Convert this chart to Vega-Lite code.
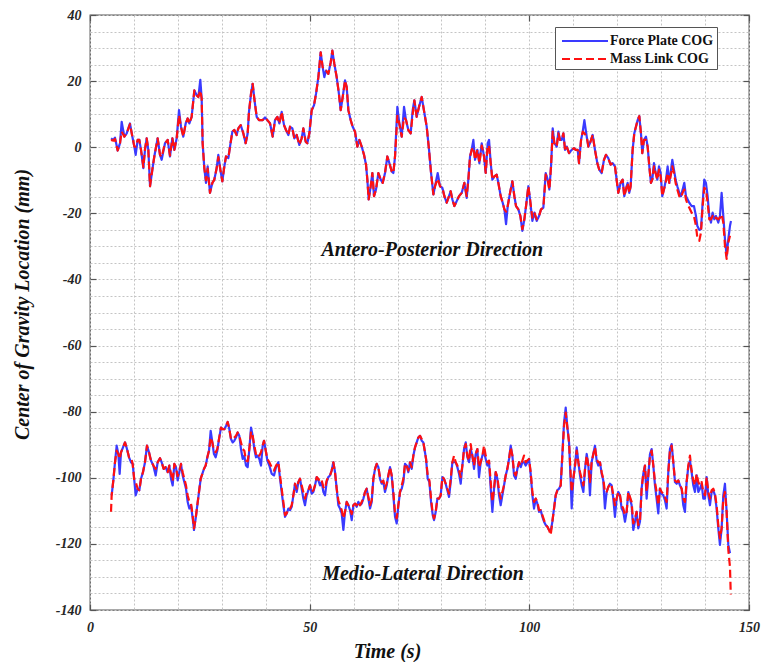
{
"$schema":"https://vega.github.io/schema/vega-lite/v6.json",
"width":659,"height":595,
"autosize":{"type":"none"},
"padding":{"left":90,"top":15,"right":17,"bottom":52},
"background":"white",
"config":{
 "view":{"stroke":"#555555","strokeWidth":1.3},
 "font":"Liberation Serif",
 "axis":{"labelFont":"Liberation Serif","labelFontSize":14,"labelFontStyle":"italic","labelFontWeight":"bold","labelColor":"#262626",
  "titleFont":"Liberation Serif","titleFontSize":20,"titleFontStyle":"italic","titleFontWeight":"bold","titleColor":"#111111",
  "domain":false,"tickColor":"#555555","tickWidth":1.2,"gridColor":"#c4c4c4","gridDash":[2,2],"gridWidth":1}
},
"datasets":{
"notes":[{"t":77.9,"v":-32.9,"label":"Antero-Posterior Direction"},{"t":75.8,"v":-130.9,"label":"Medio-Lateral Direction"}],
"cog":[
{"d":"AP","t":4.78,"F":2.7,"M":2.2},{"d":"AP","t":5.31,"F":2.2,"M":2.0},{"d":"AP","t":5.69,"F":2.9,"M":2.5},{"d":"AP","t":6.3,"F":-1.0,"M":-1.0},{"d":"AP","t":6.83,"F":1.2,"M":1.2},{"d":"AP","t":7.21,"F":7.7,"M":4.7},{"d":"AP","t":7.82,"F":3.2,"M":3.2},{"d":"AP","t":8.35,"F":4.2,"M":4.2},{"d":"AP","t":9.1,"F":7.2,"M":7.0},{"d":"AP","t":9.64,"F":3.2,"M":3.2},{"d":"AP","t":10.09,"F":0.2,"M":0.2},{"d":"AP","t":10.4,"F":-2.3,"M":0.2},{"d":"AP","t":10.85,"F":2.2,"M":2.2},{"d":"AP","t":11.23,"F":2.2,"M":2.2},{"d":"AP","t":11.61,"F":-0.8,"M":-0.8},{"d":"AP","t":12.14,"F":-6.3,"M":-6.0},{"d":"AP","t":12.52,"F":-0.8,"M":-0.5},{"d":"AP","t":12.9,"F":2.7,"M":2.7},{"d":"AP","t":13.28,"F":-0.8,"M":-0.8},{"d":"AP","t":13.66,"F":-11.8,"M":-11.8},{"d":"AP","t":14.19,"F":-6.8,"M":-6.8},{"d":"AP","t":14.64,"F":-2.8,"M":-2.8},{"d":"AP","t":15.4,"F":2.7,"M":2.7},{"d":"AP","t":15.93,"F":-2.3,"M":-2.3},{"d":"AP","t":16.31,"F":-3.8,"M":-3.0},{"d":"AP","t":17.07,"F":1.2,"M":1.2},{"d":"AP","t":17.68,"F":2.2,"M":2.2},{"d":"AP","t":18.21,"F":-2.8,"M":-2.5},{"d":"AP","t":18.74,"F":2.7,"M":2.7},{"d":"AP","t":19.2,"F":-0.8,"M":-0.8},{"d":"AP","t":19.73,"F":2.7,"M":2.7},{"d":"AP","t":20.26,"F":11.2,"M":9.7},{"d":"AP","t":20.71,"F":6.2,"M":6.2},{"d":"AP","t":21.24,"F":3.2,"M":3.2},{"d":"AP","t":21.78,"F":7.2,"M":7.2},{"d":"AP","t":22.23,"F":8.7,"M":8.7},{"d":"AP","t":22.61,"F":7.2,"M":7.2},{"d":"AP","t":23.14,"F":9.2,"M":9.2},{"d":"AP","t":23.75,"F":17.2,"M":17.2},{"d":"AP","t":24.28,"F":15.7,"M":15.7},{"d":"AP","t":24.66,"F":15.2,"M":15.2},{"d":"AP","t":25.11,"F":20.4,"M":17.2},{"d":"AP","t":25.42,"F":14.7,"M":14.7},{"d":"AP","t":25.64,"F":1.2,"M":1.2},{"d":"AP","t":26.02,"F":-6.3,"M":-6.3},{"d":"AP","t":26.4,"F":-10.8,"M":-10.0},{"d":"AP","t":26.78,"F":-5.8,"M":-6.5},{"d":"AP","t":27.31,"F":-13.8,"M":-13.8},{"d":"AP","t":27.85,"F":-10.8,"M":-10.8},{"d":"AP","t":28.3,"F":-9.8,"M":-9.8},{"d":"AP","t":28.83,"F":-6.3,"M":-6.3},{"d":"AP","t":29.21,"F":-2.3,"M":-3.0},{"d":"AP","t":29.67,"F":-6.8,"M":-6.8},{"d":"AP","t":30.12,"F":-10.3,"M":-10.3},{"d":"AP","t":30.58,"F":-5.8,"M":-5.8},{"d":"AP","t":30.96,"F":-2.8,"M":-2.8},{"d":"AP","t":31.49,"F":-3.3,"M":-3.3},{"d":"AP","t":31.87,"F":0.2,"M":0.2},{"d":"AP","t":32.4,"F":4.7,"M":4.7},{"d":"AP","t":32.85,"F":5.2,"M":5.2},{"d":"AP","t":33.38,"F":3.7,"M":3.7},{"d":"AP","t":33.76,"F":5.7,"M":5.7},{"d":"AP","t":34.3,"F":6.7,"M":6.7},{"d":"AP","t":34.9,"F":4.2,"M":4.2},{"d":"AP","t":35.43,"F":1.2,"M":1.2},{"d":"AP","t":35.89,"F":4.2,"M":4.2},{"d":"AP","t":36.19,"F":10.7,"M":10.7},{"d":"AP","t":36.65,"F":16.2,"M":16.2},{"d":"AP","t":37.03,"F":19.2,"M":19.2},{"d":"AP","t":37.4,"F":14.7,"M":14.7},{"d":"AP","t":37.94,"F":9.2,"M":9.2},{"d":"AP","t":38.47,"F":8.2,"M":8.2},
{"d":"AP","t":39.31,"F":8.2,"M":8.2},{"d":"AP","t":39.84,"F":9.0,"M":9.0},{"d":"AP","t":40.37,"F":8.2,"M":8.2},{"d":"AP","t":40.98,"F":7.2,"M":7.2},{"d":"AP","t":41.58,"F":3.2,"M":3.2},{"d":"AP","t":42.11,"F":8.2,"M":8.2},{"d":"AP","t":42.65,"F":9.2,"M":9.2},{"d":"AP","t":43.1,"F":7.2,"M":7.2},{"d":"AP","t":43.63,"F":10.7,"M":10.7},{"d":"AP","t":44.16,"F":6.7,"M":6.7},{"d":"AP","t":44.62,"F":5.2,"M":5.2},{"d":"AP","t":45.15,"F":3.7,"M":3.7},{"d":"AP","t":45.53,"F":6.2,"M":6.2},{"d":"AP","t":46.06,"F":5.7,"M":5.7},{"d":"AP","t":46.51,"F":2.7,"M":2.7},{"d":"AP","t":47.05,"F":3.7,"M":3.7},{"d":"AP","t":47.65,"F":0.7,"M":0.7},{"d":"AP","t":48.18,"F":2.7,"M":2.7},{"d":"AP","t":48.56,"F":5.7,"M":5.7},{"d":"AP","t":49.09,"F":1.7,"M":1.7},{"d":"AP","t":49.47,"F":1.2,"M":1.2},{"d":"AP","t":49.93,"F":4.2,"M":4.2},{"d":"AP","t":50.46,"F":11.2,"M":11.2},{"d":"AP","t":50.99,"F":12.7,"M":12.7},{"d":"AP","t":51.45,"F":16.2,"M":16.2},{"d":"AP","t":51.98,"F":21.2,"M":21.2},{"d":"AP","t":52.51,"F":28.7,"M":28.7},{"d":"AP","t":52.96,"F":24.2,"M":24.2},{"d":"AP","t":53.34,"F":21.2,"M":23.2},{"d":"AP","t":53.72,"F":23.2,"M":23.2},{"d":"AP","t":54.25,"F":22.2,"M":22.2},{"d":"AP","t":54.79,"F":25.7,"M":25.7},{"d":"AP","t":55.16,"F":29.2,"M":29.2},{"d":"AP","t":55.62,"F":25.2,"M":25.2},{"d":"AP","t":56.15,"F":21.2,"M":21.2},{"d":"AP","t":56.61,"F":16.7,"M":16.7},{"d":"AP","t":57.06,"F":11.2,"M":11.2},{"d":"AP","t":57.52,"F":15.2,"M":15.2},{"d":"AP","t":58.05,"F":20.2,"M":20.2},{"d":"AP","t":58.43,"F":18.2,"M":18.2},{"d":"AP","t":58.81,"F":11.2,"M":11.2},{"d":"AP","t":59.34,"F":8.2,"M":8.2},{"d":"AP","t":59.79,"F":6.2,"M":6.2},{"d":"AP","t":60.32,"F":4.7,"M":4.7},{"d":"AP","t":60.85,"F":0.2,"M":0.2},{"d":"AP","t":61.31,"F":2.2,"M":2.2},{"d":"AP","t":61.84,"F":0.2,"M":0.2},{"d":"AP","t":62.37,"F":-2.3,"M":-2.3},{"d":"AP","t":62.83,"F":-5.3,"M":-5.3},{"d":"AP","t":63.13,"F":-9.8,"M":-9.8},{"d":"AP","t":63.43,"F":-15.8,"M":-15.8},{"d":"AP","t":63.89,"F":-11.8,"M":-11.8},{"d":"AP","t":64.27,"F":-7.8,"M":-7.8},{"d":"AP","t":64.65,"F":-14.8,"M":-14.8},{"d":"AP","t":65.1,"F":-12.8,"M":-12.8},{"d":"AP","t":65.64,"F":-7.8,"M":-7.8},{"d":"AP","t":66.17,"F":-9.8,"M":-9.8},{"d":"AP","t":66.62,"F":-10.8,"M":-10.8},{"d":"AP","t":67.15,"F":-7.8,"M":-7.8},{"d":"AP","t":67.68,"F":-2.8,"M":-2.8},{"d":"AP","t":68.14,"F":-4.8,"M":-4.8},{"d":"AP","t":68.67,"F":-7.3,"M":-7.3},{"d":"AP","t":69.05,"F":-7.8,"M":-7.8},{"d":"AP","t":69.43,"F":-2.8,"M":-2.8},{"d":"AP","t":69.96,"F":12.2,"M":9.5},{"d":"AP","t":70.41,"F":7.2,"M":7.2},{"d":"AP","t":70.95,"F":3.2,"M":3.2},{"d":"AP","t":71.48,"F":12.2,"M":9.0},{"d":"AP","t":71.93,"F":8.2,"M":8.2},{"d":"AP","t":72.46,"F":5.2,"M":5.2},{"d":"AP","t":72.99,"F":4.2,"M":4.2},{"d":"AP","t":73.45,"F":11.2,"M":10.0},{"d":"AP","t":73.83,"F":14.2,"M":14.2},{"d":"AP","t":74.36,"F":9.2,"M":9.2},{"d":"AP","t":74.89,"F":12.2,"M":12.2},{"d":"AP","t":75.5,"F":15.2,"M":15.2},{"d":"AP","t":75.88,"F":12.2,"M":12.2},
{"d":"AP","t":76.64,"F":6.2,"M":6.2},{"d":"AP","t":77.17,"F":-0.8,"M":-0.8},{"d":"AP","t":77.63,"F":-7.8,"M":-7.8},{"d":"AP","t":78.16,"F":-14.3,"M":-14.3},{"d":"AP","t":78.54,"F":-11.8,"M":-11.8},{"d":"AP","t":79.14,"F":-7.8,"M":-9.5},{"d":"AP","t":79.67,"F":-11.8,"M":-11.8},{"d":"AP","t":80.21,"F":-12.3,"M":-12.3},{"d":"AP","t":80.66,"F":-14.8,"M":-14.8},{"d":"AP","t":81.19,"F":-16.8,"M":-16.8},{"d":"AP","t":81.72,"F":-14.8,"M":-14.8},{"d":"AP","t":82.1,"F":-13.3,"M":-13.3},{"d":"AP","t":82.48,"F":-15.8,"M":-15.8},{"d":"AP","t":82.94,"F":-17.8,"M":-17.8},{"d":"AP","t":83.47,"F":-16.3,"M":-16.3},{"d":"AP","t":84.0,"F":-14.8,"M":-14.8},{"d":"AP","t":84.61,"F":-13.8,"M":-13.8},{"d":"AP","t":85.21,"F":-10.8,"M":-10.8},{"d":"AP","t":85.74,"F":-15.3,"M":-14.8},{"d":"AP","t":86.12,"F":-9.8,"M":-9.8},{"d":"AP","t":86.5,"F":-2.8,"M":-2.8},{"d":"AP","t":86.88,"F":-0.8,"M":-0.8},{"d":"AP","t":87.26,"F":2.2,"M":0.0},{"d":"AP","t":87.64,"F":-3.8,"M":-3.8},{"d":"AP","t":88.17,"F":-0.8,"M":-0.8},{"d":"AP","t":88.63,"F":-4.8,"M":-4.8},{"d":"AP","t":89.16,"F":1.2,"M":0.5},{"d":"AP","t":89.69,"F":-2.8,"M":-2.8},{"d":"AP","t":90.07,"F":-7.8,"M":-7.8},{"d":"AP","t":90.52,"F":1.2,"M":0.5},{"d":"AP","t":90.83,"F":2.2,"M":0.5},{"d":"AP","t":91.21,"F":-4.8,"M":-4.8},{"d":"AP","t":91.59,"F":-9.8,"M":-9.8},{"d":"AP","t":92.04,"F":-8.8,"M":-8.8},{"d":"AP","t":92.57,"F":-8.3,"M":-8.3},{"d":"AP","t":92.95,"F":-10.8,"M":-10.8},{"d":"AP","t":93.48,"F":-14.8,"M":-14.8},{"d":"AP","t":93.94,"F":-16.8,"M":-16.8},{"d":"AP","t":94.32,"F":-18.8,"M":-18.8},{"d":"AP","t":94.7,"F":-23.3,"M":-19.5},{"d":"AP","t":95.08,"F":-17.8,"M":-17.8},{"d":"AP","t":95.61,"F":-13.8,"M":-13.8},{"d":"AP","t":96.14,"F":-10.3,"M":-10.3},{"d":"AP","t":96.59,"F":-14.8,"M":-14.8},{"d":"AP","t":96.97,"F":-17.8,"M":-17.8},{"d":"AP","t":97.5,"F":-18.8,"M":-18.8},{"d":"AP","t":97.96,"F":-20.8,"M":-20.8},{"d":"AP","t":98.41,"F":-25.3,"M":-24.8},{"d":"AP","t":98.87,"F":-21.8,"M":-21.8},{"d":"AP","t":99.25,"F":-17.8,"M":-17.8},{"d":"AP","t":99.78,"F":-11.8,"M":-11.8},{"d":"AP","t":100.16,"F":-15.8,"M":-15.8},{"d":"AP","t":100.69,"F":-22.3,"M":-21.3},{"d":"AP","t":101.15,"F":-19.8,"M":-19.8},{"d":"AP","t":101.68,"F":-22.3,"M":-21.8},{"d":"AP","t":102.21,"F":-20.8,"M":-20.8},{"d":"AP","t":102.66,"F":-18.8,"M":-18.8},{"d":"AP","t":103.19,"F":-18.3,"M":-18.3},{"d":"AP","t":103.73,"F":-7.8,"M":-8.3},{"d":"AP","t":104.18,"F":-9.8,"M":-9.8},{"d":"AP","t":104.56,"F":-12.8,"M":-12.8},{"d":"AP","t":104.94,"F":-5.8,"M":-5.8},{"d":"AP","t":105.32,"F":5.7,"M":4.7},{"d":"AP","t":105.7,"F":1.2,"M":1.2},{"d":"AP","t":106.23,"F":0.2,"M":0.2},{"d":"AP","t":106.61,"F":4.7,"M":4.2},{"d":"AP","t":106.99,"F":2.2,"M":2.2},{"d":"AP","t":107.37,"F":2.2,"M":2.2},{"d":"AP","t":107.75,"F":4.2,"M":4.2},{"d":"AP","t":108.13,"F":-0.8,"M":-0.8},{"d":"AP","t":108.51,"F":0.2,"M":0.2},{"d":"AP","t":109.04,"F":-1.8,"M":-1.8},{"d":"AP","t":109.64,"F":-0.8,"M":-0.8},{"d":"AP","t":110.17,"F":-0.3,"M":-0.3},{"d":"AP","t":110.55,"F":-0.8,"M":-0.8},{"d":"AP","t":111.01,"F":-0.8,"M":-0.8},{"d":"AP","t":111.31,"F":-4.8,"M":-4.8},{"d":"AP","t":111.77,"F":2.2,"M":2.2},{"d":"AP","t":112.15,"F":4.7,"M":4.7},{"d":"AP","t":112.53,"F":8.2,"M":4.2},{"d":"AP","t":113.06,"F":3.2,"M":3.2},{"d":"AP","t":113.44,"F":0.2,"M":0.2},
{"d":"AP","t":113.8,"F":1.2,"M":1.2},{"d":"AP","t":114.41,"F":3.7,"M":3.7},{"d":"AP","t":114.94,"F":-0.8,"M":-0.8},{"d":"AP","t":115.47,"F":-4.8,"M":-4.8},{"d":"AP","t":115.92,"F":-6.8,"M":-6.8},{"d":"AP","t":116.46,"F":-7.8,"M":-7.8},{"d":"AP","t":116.99,"F":-3.8,"M":-3.8},{"d":"AP","t":117.44,"F":-2.3,"M":-2.3},{"d":"AP","t":117.97,"F":-3.3,"M":-3.3},{"d":"AP","t":118.5,"F":-5.3,"M":-5.3},{"d":"AP","t":118.96,"F":-4.8,"M":-4.8},{"d":"AP","t":119.49,"F":-5.8,"M":-5.8},{"d":"AP","t":119.87,"F":-9.8,"M":-9.8},{"d":"AP","t":120.25,"F":-13.8,"M":-13.8},{"d":"AP","t":120.78,"F":-10.8,"M":-10.8},{"d":"AP","t":121.24,"F":-9.8,"M":-9.8},{"d":"AP","t":121.61,"F":-14.8,"M":-14.8},{"d":"AP","t":121.99,"F":-12.8,"M":-12.8},{"d":"AP","t":122.37,"F":-10.8,"M":-10.8},{"d":"AP","t":122.75,"F":-13.8,"M":-13.8},{"d":"AP","t":123.06,"F":-11.8,"M":-11.8},{"d":"AP","t":123.51,"F":-0.8,"M":-0.8},{"d":"AP","t":123.89,"F":4.2,"M":4.2},{"d":"AP","t":124.27,"F":6.2,"M":6.2},{"d":"AP","t":124.65,"F":8.2,"M":8.2},{"d":"AP","t":125.03,"F":9.4,"M":9.4},{"d":"AP","t":125.41,"F":4.2,"M":4.2},{"d":"AP","t":125.71,"F":-1.8,"M":-1.8},{"d":"AP","t":126.09,"F":2.2,"M":2.2},{"d":"AP","t":126.55,"F":3.2,"M":2.2},{"d":"AP","t":126.93,"F":0.2,"M":0.2},{"d":"AP","t":127.31,"F":-5.8,"M":-5.8},{"d":"AP","t":127.68,"F":-10.8,"M":-10.8},{"d":"AP","t":127.99,"F":-9.8,"M":-9.8},{"d":"AP","t":128.37,"F":-4.8,"M":-5.8},{"d":"AP","t":128.75,"F":-7.8,"M":-7.8},{"d":"AP","t":129.13,"F":-9.8,"M":-9.8},{"d":"AP","t":129.51,"F":-5.8,"M":-6.8},{"d":"AP","t":129.89,"F":-7.8,"M":-8.8},{"d":"AP","t":130.26,"F":-14.8,"M":-14.8},{"d":"AP","t":130.64,"F":-12.8,"M":-12.8},{"d":"AP","t":131.1,"F":-9.8,"M":-10.3},{"d":"AP","t":131.48,"F":-5.8,"M":-7.8},{"d":"AP","t":131.86,"F":-10.8,"M":-10.8},{"d":"AP","t":132.16,"F":-7.8,"M":-8.8},{"d":"AP","t":132.54,"F":-3.8,"M":-5.8},{"d":"AP","t":132.92,"F":-6.8,"M":-7.8},{"d":"AP","t":133.3,"F":-9.8,"M":-10.8},{"d":"AP","t":133.68,"F":-11.8,"M":-12.8},{"d":"AP","t":134.13,"F":-13.8,"M":-14.8},{"d":"AP","t":134.51,"F":-14.8,"M":-15.3},{"d":"AP","t":134.89,"F":-12.8,"M":-13.8},{"d":"AP","t":135.27,"F":-10.8,"M":-12.8},{"d":"AP","t":135.65,"F":-14.8,"M":-15.8},{"d":"AP","t":136.03,"F":-15.8,"M":-17.3},{"d":"AP","t":136.41,"F":-16.8,"M":-18.3},{"d":"AP","t":136.94,"F":-17.8,"M":-19.8},{"d":"AP","t":137.47,"F":-17.8,"M":-20.8},{"d":"AP","t":137.93,"F":-20.8,"M":-23.8},{"d":"AP","t":138.23,"F":-23.8,"M":-27.3},{"d":"AP","t":138.69,"F":-25.0,"M":-28.3},{"d":"AP","t":139.07,"F":-24.8,"M":-25.8},{"d":"AP","t":139.45,"F":-16.8,"M":-17.8},{"d":"AP","t":139.82,"F":-9.8,"M":-12.3},{"d":"AP","t":140.2,"F":-10.8,"M":-12.8},{"d":"AP","t":140.58,"F":-14.8,"M":-16.8},{"d":"AP","t":140.96,"F":-20.8,"M":-21.8},{"d":"AP","t":141.34,"F":-22.8,"M":-21.8},{"d":"AP","t":141.72,"F":-19.8,"M":-20.8},{"d":"AP","t":142.1,"F":-21.8,"M":-21.8},{"d":"AP","t":142.48,"F":-20.8,"M":-21.3},{"d":"AP","t":143.01,"F":-22.8,"M":-21.8},{"d":"AP","t":143.39,"F":-20.8,"M":-21.3},{"d":"AP","t":143.77,"F":-13.8,"M":-20.3},{"d":"AP","t":144.15,"F":-20.8,"M":-22.8},{"d":"AP","t":144.53,"F":-27.8,"M":-29.8},{"d":"AP","t":144.91,"F":-32.8,"M":-33.8},{"d":"AP","t":145.29,"F":-27.8,"M":-28.8},{"d":"AP","t":145.67,"F":-23.8,"M":-26.8},{"d":"AP","t":145.9,"F":-22.3,"M":null},
{"d":"ML","t":4.78,"F":null,"M":-110.3},{"d":"ML","t":4.93,"F":-105.3,"M":-105.3},{"d":"ML","t":5.31,"F":-100.8,"M":-100.8},{"d":"ML","t":5.69,"F":-95.3,"M":-95.3},{"d":"ML","t":6.07,"F":-90.3,"M":-91.8},{"d":"ML","t":6.45,"F":-92.8,"M":-92.8},{"d":"ML","t":6.75,"F":-98.8,"M":-94.3},{"d":"ML","t":7.06,"F":-92.3,"M":-92.3},{"d":"ML","t":7.51,"F":-90.8,"M":-90.8},{"d":"ML","t":7.97,"F":-89.3,"M":-89.3},{"d":"ML","t":8.42,"F":-91.3,"M":-91.3},{"d":"ML","t":8.88,"F":-93.8,"M":-93.8},{"d":"ML","t":9.33,"F":-95.3,"M":-93.8},{"d":"ML","t":9.71,"F":-95.8,"M":-95.8},{"d":"ML","t":10.09,"F":-100.8,"M":-100.8},{"d":"ML","t":10.4,"F":-105.3,"M":-101.3},{"d":"ML","t":10.85,"F":-103.3,"M":-103.3},{"d":"ML","t":11.23,"F":-103.8,"M":-103.8},{"d":"ML","t":11.61,"F":-100.3,"M":-100.3},{"d":"ML","t":12.06,"F":-98.3,"M":-98.3},{"d":"ML","t":12.52,"F":-95.3,"M":-95.3},{"d":"ML","t":12.97,"F":-90.3,"M":-90.3},{"d":"ML","t":13.43,"F":-92.3,"M":-92.3},{"d":"ML","t":13.88,"F":-94.8,"M":-94.8},{"d":"ML","t":14.42,"F":-96.3,"M":-96.3},{"d":"ML","t":14.95,"F":-99.3,"M":-97.3},{"d":"ML","t":15.4,"F":-95.3,"M":-95.3},{"d":"ML","t":15.93,"F":-94.1,"M":-94.1},{"d":"ML","t":16.31,"F":-95.3,"M":-95.3},{"d":"ML","t":16.77,"F":-97.3,"M":-97.3},{"d":"ML","t":17.22,"F":-96.8,"M":-96.8},{"d":"ML","t":17.68,"F":-98.3,"M":-98.3},{"d":"ML","t":18.06,"F":-96.3,"M":-96.3},{"d":"ML","t":18.44,"F":-100.3,"M":-98.8},{"d":"ML","t":18.82,"F":-102.3,"M":-101.0},{"d":"ML","t":19.2,"F":-95.8,"M":-95.8},{"d":"ML","t":19.57,"F":-96.8,"M":-96.8},{"d":"ML","t":19.95,"F":-100.8,"M":-99.5},{"d":"ML","t":20.33,"F":-98.3,"M":-98.3},{"d":"ML","t":20.71,"F":-95.8,"M":-95.8},{"d":"ML","t":21.09,"F":-99.3,"M":-98.3},{"d":"ML","t":21.47,"F":-101.3,"M":-100.3},{"d":"ML","t":21.85,"F":-103.3,"M":-102.3},{"d":"ML","t":22.23,"F":-107.3,"M":-105.3},{"d":"ML","t":22.61,"F":-109.3,"M":-107.3},{"d":"ML","t":22.99,"F":-108.3,"M":-107.8},{"d":"ML","t":23.37,"F":-112.3,"M":-111.3},{"d":"ML","t":23.67,"F":-115.8,"M":-115.3},{"d":"ML","t":24.05,"F":-112.3,"M":-112.3},{"d":"ML","t":24.43,"F":-108.3,"M":-108.3},{"d":"ML","t":24.81,"F":-104.3,"M":-104.3},{"d":"ML","t":25.19,"F":-100.3,"M":-100.3},{"d":"ML","t":25.57,"F":-98.8,"M":-98.8},{"d":"ML","t":25.95,"F":-97.3,"M":-97.3},{"d":"ML","t":26.33,"F":-96.3,"M":-96.3},{"d":"ML","t":26.71,"F":-93.8,"M":-93.8},{"d":"ML","t":27.09,"F":-91.8,"M":-91.8},{"d":"ML","t":27.47,"F":-85.8,"M":-87.8},{"d":"ML","t":27.85,"F":-89.3,"M":-89.3},{"d":"ML","t":28.22,"F":-92.8,"M":-91.8},{"d":"ML","t":28.6,"F":-93.8,"M":-92.3},{"d":"ML","t":28.98,"F":-91.8,"M":-91.3},{"d":"ML","t":29.36,"F":-88.3,"M":-88.3},{"d":"ML","t":29.82,"F":-84.8,"M":-84.8},{"d":"ML","t":30.2,"F":-85.3,"M":-85.3},{"d":"ML","t":30.58,"F":-85.3,"M":-85.3},{"d":"ML","t":30.96,"F":-84.3,"M":-84.3},{"d":"ML","t":31.34,"F":-83.1,"M":-83.1},{"d":"ML","t":31.72,"F":-85.3,"M":-85.3},{"d":"ML","t":32.09,"F":-88.3,"M":-88.3},{"d":"ML","t":32.47,"F":-89.3,"M":-88.3},{"d":"ML","t":32.85,"F":-88.8,"M":-87.8},{"d":"ML","t":33.23,"F":-87.8,"M":-87.3},{"d":"ML","t":33.61,"F":-86.3,"M":-86.3},{"d":"ML","t":33.99,"F":-87.3,"M":-87.3},{"d":"ML","t":34.37,"F":-91.3,"M":-89.3},{"d":"ML","t":34.75,"F":-94.3,"M":-91.3},{"d":"ML","t":35.13,"F":-93.3,"M":-91.8},{"d":"ML","t":35.51,"F":-96.3,"M":-94.8},{"d":"ML","t":35.89,"F":-96.8,"M":-95.0},{"d":"ML","t":36.27,"F":-91.3,"M":-91.3},{"d":"ML","t":36.65,"F":-84.8,"M":-86.0},{"d":"ML","t":37.03,"F":-87.3,"M":-87.3},{"d":"ML","t":37.4,"F":-91.3,"M":-90.3},{"d":"ML","t":37.78,"F":-93.8,"M":-92.8},{"d":"ML","t":38.16,"F":-93.3,"M":-92.3},{"d":"ML","t":38.54,"F":-94.3,"M":-93.3},{"d":"ML","t":38.92,"F":-96.3,"M":-92.3},{"d":"ML","t":39.3,"F":-90.3,"M":-90.3},{"d":"ML","t":39.61,"F":-88.8,"M":-88.8},{"d":"ML","t":40.07,"F":-92.3,"M":-92.3},{"d":"ML","t":40.37,"F":-94.8,"M":-94.3},{"d":"ML","t":40.82,"F":-96.3,"M":-95.3},{"d":"ML","t":41.36,"F":-98.8,"M":-96.8},{"d":"ML","t":41.89,"F":-99.3,"M":-97.8},{"d":"ML","t":42.34,"F":-96.8,"M":-96.3},{"d":"ML","t":42.87,"F":-95.3,"M":-95.3},{"d":"ML","t":43.25,"F":-100.3,"M":-99.3},{"d":"ML","t":43.63,"F":-104.3,"M":-103.3},{"d":"ML","t":44.01,"F":-108.3,"M":-107.3},{"d":"ML","t":44.39,"F":-111.8,"M":-111.3},{"d":"ML","t":44.77,"F":-110.8,"M":-110.8},{"d":"ML","t":45.15,"F":-109.3,"M":-109.3},{"d":"ML","t":45.53,"F":-109.8,"M":-109.3},{"d":"ML","t":45.91,"F":-108.8,"M":-108.3},{"d":"ML","t":46.29,"F":-105.3,"M":-105.3},{"d":"ML","t":46.67,"F":-101.8,"M":-101.8},{"d":"ML","t":47.05,"F":-104.3,"M":-103.3},{"d":"ML","t":47.43,"F":-101.3,"M":-101.3},{"d":"ML","t":47.8,"F":-100.3,"M":-100.3},{"d":"ML","t":48.18,"F":-103.3,"M":-102.3},{"d":"ML","t":48.56,"F":-106.3,"M":-104.3},{"d":"ML","t":48.94,"F":-108.3,"M":-106.3},{"d":"ML","t":49.32,"F":-105.3,"M":-104.3},{"d":"ML","t":49.7,"F":-103.8,"M":-103.8},{"d":"ML","t":50.08,"F":-102.3,"M":-102.3},{"d":"ML","t":50.46,"F":-104.8,"M":-104.3},{"d":"ML","t":50.84,"F":-104.3,"M":-103.8},{"d":"ML","t":51.22,"F":-102.3,"M":-102.3},{"d":"ML","t":51.6,"F":-99.8,"M":-99.8},{"d":"ML","t":51.98,"F":-100.8,"M":-100.3},{"d":"ML","t":52.36,"F":-102.3,"M":-101.3},{"d":"ML","t":52.74,"F":-101.3,"M":-100.8},{"d":"ML","t":53.12,"F":-104.3,"M":-102.8},{"d":"ML","t":53.5,"F":-105.3,"M":-103.3},{"d":"ML","t":53.87,"F":-101.3,"M":-100.8},{"d":"ML","t":54.25,"F":-99.8,"M":-99.8},{"d":"ML","t":54.63,"F":-99.3,"M":-99.3},{"d":"ML","t":55.01,"F":-97.8,"M":-97.8},{"d":"ML","t":55.39,"F":-95.3,"M":-95.3},{"d":"ML","t":55.77,"F":-98.3,"M":-98.3},{"d":"ML","t":56.15,"F":-103.3,"M":-103.3},{"d":"ML","t":56.53,"F":-108.3,"M":-106.8},{"d":"ML","t":56.91,"F":-109.3,"M":-108.3},{"d":"ML","t":57.29,"F":-110.8,"M":-109.8},{"d":"ML","t":57.67,"F":-115.8,"M":-112.3},{"d":"ML","t":58.05,"F":-110.3,"M":-110.3},{"d":"ML","t":58.43,"F":-107.3,"M":-107.3},{"d":"ML","t":58.81,"F":-108.3,"M":-108.3},{"d":"ML","t":59.19,"F":-109.8,"M":-109.3},{"d":"ML","t":59.57,"F":-112.8,"M":-111.0},{"d":"ML","t":59.94,"F":-108.3,"M":-108.3},{"d":"ML","t":60.32,"F":-107.8,"M":-107.8},{"d":"ML","t":60.7,"F":-108.8,"M":-108.3},{"d":"ML","t":61.08,"F":-107.3,"M":-107.3},{"d":"ML","t":61.46,"F":-108.3,"M":-108.3},{"d":"ML","t":61.84,"F":-107.8,"M":-107.3},{"d":"ML","t":62.22,"F":-106.3,"M":-106.3},{"d":"ML","t":62.6,"F":-104.3,"M":-104.3},{"d":"ML","t":62.98,"F":-103.3,"M":-103.3},{"d":"ML","t":63.36,"F":-106.3,"M":-105.8},{"d":"ML","t":63.74,"F":-109.3,"M":-108.3},{"d":"ML","t":64.12,"F":-107.3,"M":-106.8},{"d":"ML","t":64.5,"F":-100.3,"M":-100.3},{"d":"ML","t":64.88,"F":-97.3,"M":-97.3},{"d":"ML","t":65.26,"F":-95.8,"M":-95.8},{"d":"ML","t":65.64,"F":-96.8,"M":-96.8},{"d":"ML","t":66.01,"F":-100.3,"M":-99.8},{"d":"ML","t":66.39,"F":-101.8,"M":-101.3},{"d":"ML","t":66.77,"F":-101.3,"M":-100.8},{"d":"ML","t":67.15,"F":-104.3,"M":-103.3},{"d":"ML","t":67.53,"F":-102.3,"M":-101.8},{"d":"ML","t":67.91,"F":-99.3,"M":-99.3},{"d":"ML","t":68.29,"F":-96.8,"M":-96.8},{"d":"ML","t":68.67,"F":-99.3,"M":-99.3},{"d":"ML","t":69.05,"F":-105.3,"M":-104.3},{"d":"ML","t":69.43,"F":-111.8,"M":-110.8},{"d":"ML","t":69.81,"F":-113.8,"M":-112.3},{"d":"ML","t":70.19,"F":-108.3,"M":-108.3},{"d":"ML","t":70.57,"F":-104.3,"M":-104.3},{"d":"ML","t":70.95,"F":-103.3,"M":-102.3},{"d":"ML","t":71.33,"F":-101.3,"M":-100.3},{"d":"ML","t":71.7,"F":-95.8,"M":-95.8},{"d":"ML","t":72.08,"F":-96.3,"M":-96.3},{"d":"ML","t":72.46,"F":-98.3,"M":-97.8},{"d":"ML","t":72.84,"F":-95.3,"M":-95.3},{"d":"ML","t":73.22,"F":-97.3,"M":-96.8},{"d":"ML","t":73.6,"F":-93.3,"M":-93.3},{"d":"ML","t":73.98,"F":-90.8,"M":-90.8},{"d":"ML","t":74.36,"F":-89.3,"M":-89.3},{"d":"ML","t":74.74,"F":-87.8,"M":-87.8},{"d":"ML","t":75.12,"F":-87.3,"M":-87.3},{"d":"ML","t":75.5,"F":-88.8,"M":-88.3},{"d":"ML","t":75.88,"F":-89.3,"M":-89.3},
{"d":"ML","t":76.49,"F":-94.3,"M":-94.3},{"d":"ML","t":76.87,"F":-100.3,"M":-99.3},{"d":"ML","t":77.25,"F":-101.3,"M":-100.8},{"d":"ML","t":77.63,"F":-107.3,"M":-106.3},{"d":"ML","t":78.01,"F":-111.3,"M":-110.8},{"d":"ML","t":78.31,"F":-112.8,"M":-112.3},{"d":"ML","t":78.69,"F":-110.3,"M":-110.3},{"d":"ML","t":79.07,"F":-106.3,"M":-106.3},{"d":"ML","t":79.45,"F":-106.3,"M":-106.3},{"d":"ML","t":79.83,"F":-105.3,"M":-105.3},{"d":"ML","t":80.21,"F":-99.8,"M":-99.8},{"d":"ML","t":80.58,"F":-100.3,"M":-100.3},{"d":"ML","t":80.96,"F":-101.8,"M":-101.8},{"d":"ML","t":81.34,"F":-103.8,"M":-103.3},{"d":"ML","t":81.72,"F":-105.8,"M":-104.8},{"d":"ML","t":82.1,"F":-101.3,"M":-100.3},{"d":"ML","t":82.48,"F":-95.3,"M":-95.3},{"d":"ML","t":82.86,"F":-95.3,"M":-93.3},{"d":"ML","t":83.24,"F":-95.3,"M":-95.3},{"d":"ML","t":83.62,"F":-96.8,"M":-96.3},{"d":"ML","t":84.0,"F":-98.8,"M":-97.8},{"d":"ML","t":84.38,"F":-101.8,"M":-99.8},{"d":"ML","t":84.76,"F":-96.3,"M":-96.3},{"d":"ML","t":85.14,"F":-91.3,"M":-91.3},{"d":"ML","t":85.52,"F":-89.3,"M":-89.8},{"d":"ML","t":85.9,"F":-93.8,"M":-93.3},{"d":"ML","t":86.28,"F":-95.3,"M":-94.8},{"d":"ML","t":86.65,"F":-91.3,"M":-89.8},{"d":"ML","t":87.03,"F":-93.3,"M":-93.3},{"d":"ML","t":87.41,"F":-97.3,"M":-96.3},{"d":"ML","t":87.79,"F":-92.8,"M":-92.8},{"d":"ML","t":88.17,"F":-91.3,"M":-91.3},{"d":"ML","t":88.55,"F":-99.8,"M":-96.8},{"d":"ML","t":88.93,"F":-95.3,"M":-95.3},{"d":"ML","t":89.31,"F":-93.3,"M":-93.3},{"d":"ML","t":89.69,"F":-92.3,"M":-90.3},{"d":"ML","t":90.07,"F":-94.3,"M":-93.3},{"d":"ML","t":90.45,"F":-96.3,"M":-95.3},{"d":"ML","t":90.83,"F":-95.3,"M":-94.8},{"d":"ML","t":91.21,"F":-103.3,"M":-101.3},{"d":"ML","t":91.59,"F":-110.3,"M":-107.3},{"d":"ML","t":91.97,"F":-103.3,"M":-103.3},{"d":"ML","t":92.35,"F":-98.3,"M":-98.3},{"d":"ML","t":92.72,"F":-100.3,"M":-99.8},{"d":"ML","t":93.1,"F":-105.3,"M":-103.8},{"d":"ML","t":93.48,"F":-108.3,"M":-106.3},{"d":"ML","t":93.86,"F":-105.3,"M":-104.3},{"d":"ML","t":94.24,"F":-102.3,"M":-102.3},{"d":"ML","t":94.62,"F":-99.3,"M":-99.3},{"d":"ML","t":95.0,"F":-97.3,"M":-97.3},{"d":"ML","t":95.38,"F":-94.3,"M":-94.3},{"d":"ML","t":95.76,"F":-90.3,"M":-90.8},{"d":"ML","t":96.14,"F":-93.3,"M":-93.3},{"d":"ML","t":96.52,"F":-99.3,"M":-98.3},{"d":"ML","t":96.9,"F":-100.3,"M":-99.3},{"d":"ML","t":97.28,"F":-97.3,"M":-97.3},{"d":"ML","t":97.66,"F":-95.3,"M":-95.3},{"d":"ML","t":98.04,"F":-96.8,"M":-96.3},{"d":"ML","t":98.42,"F":-95.3,"M":-94.8},{"d":"ML","t":98.79,"F":-95.3,"M":-93.3},{"d":"ML","t":99.17,"F":-96.3,"M":-95.3},{"d":"ML","t":99.55,"F":-95.3,"M":-94.8},{"d":"ML","t":99.93,"F":-94.3,"M":-94.3},{"d":"ML","t":100.31,"F":-98.8,"M":-98.3},{"d":"ML","t":100.69,"F":-105.3,"M":-104.3},{"d":"ML","t":101.07,"F":-109.3,"M":-107.3},{"d":"ML","t":101.45,"F":-106.3,"M":-106.3},{"d":"ML","t":101.83,"F":-107.8,"M":-107.3},{"d":"ML","t":102.21,"F":-110.3,"M":-109.8},{"d":"ML","t":102.59,"F":-109.8,"M":-109.8},{"d":"ML","t":102.97,"F":-111.8,"M":-111.3},{"d":"ML","t":103.35,"F":-113.3,"M":-112.8},{"d":"ML","t":103.73,"F":-114.3,"M":-114.3},{"d":"ML","t":104.11,"F":-114.8,"M":-114.8},{"d":"ML","t":104.48,"F":-115.8,"M":-115.8},{"d":"ML","t":104.86,"F":-116.3,"M":-117.3},{"d":"ML","t":105.24,"F":-113.3,"M":-113.3},{"d":"ML","t":105.62,"F":-109.3,"M":-109.3},{"d":"ML","t":106.0,"F":-105.3,"M":-105.3},{"d":"ML","t":106.38,"F":-103.8,"M":-103.8},{"d":"ML","t":106.76,"F":-103.3,"M":-103.3},{"d":"ML","t":107.14,"F":-102.3,"M":-102.3},{"d":"ML","t":107.52,"F":-92.8,"M":-93.3},{"d":"ML","t":107.9,"F":-83.3,"M":-84.3},{"d":"ML","t":108.28,"F":-78.8,"M":-80.3},{"d":"ML","t":108.66,"F":-84.8,"M":-84.8},{"d":"ML","t":109.04,"F":-89.3,"M":-89.3},{"d":"ML","t":109.42,"F":-101.3,"M":-99.3},{"d":"ML","t":109.64,"F":-109.3,"M":-104.3},{"d":"ML","t":110.02,"F":-100.3,"M":-100.3},{"d":"ML","t":110.4,"F":-96.3,"M":-96.3},{"d":"ML","t":110.78,"F":-90.8,"M":-91.8},{"d":"ML","t":111.16,"F":-95.3,"M":-95.3},{"d":"ML","t":111.54,"F":-99.3,"M":-98.3},{"d":"ML","t":111.92,"F":-102.3,"M":-100.3},{"d":"ML","t":112.3,"F":-104.3,"M":-102.3},{"d":"ML","t":112.68,"F":-97.3,"M":-97.3},{"d":"ML","t":113.06,"F":-92.8,"M":-93.3},{"d":"ML","t":113.44,"F":-96.3,"M":-96.3},
{"d":"ML","t":113.8,"F":-105.3,"M":-101.3},{"d":"ML","t":114.18,"F":-95.3,"M":-95.3},{"d":"ML","t":114.56,"F":-92.8,"M":-92.8},{"d":"ML","t":114.94,"F":-90.3,"M":-90.8},{"d":"ML","t":115.32,"F":-94.8,"M":-94.3},{"d":"ML","t":115.7,"F":-96.3,"M":-95.3},{"d":"ML","t":116.08,"F":-95.3,"M":-95.3},{"d":"ML","t":116.46,"F":-98.8,"M":-98.3},{"d":"ML","t":116.83,"F":-100.8,"M":-100.3},{"d":"ML","t":117.21,"F":-109.3,"M":-104.3},{"d":"ML","t":117.59,"F":-104.3,"M":-104.3},{"d":"ML","t":117.97,"F":-102.8,"M":-102.8},{"d":"ML","t":118.35,"F":-101.8,"M":-101.8},{"d":"ML","t":118.73,"F":-102.3,"M":-102.3},{"d":"ML","t":119.11,"F":-106.3,"M":-105.3},{"d":"ML","t":119.49,"F":-111.8,"M":-108.3},{"d":"ML","t":119.87,"F":-106.3,"M":-106.3},{"d":"ML","t":120.25,"F":-104.3,"M":-104.3},{"d":"ML","t":120.63,"F":-105.3,"M":-105.3},{"d":"ML","t":121.01,"F":-109.3,"M":-108.3},{"d":"ML","t":121.39,"F":-110.3,"M":-109.3},{"d":"ML","t":121.77,"F":-113.3,"M":-111.3},{"d":"ML","t":122.15,"F":-110.3,"M":-110.3},{"d":"ML","t":122.53,"F":-104.3,"M":-104.3},{"d":"ML","t":122.9,"F":-106.3,"M":-105.8},{"d":"ML","t":123.28,"F":-108.3,"M":-107.3},{"d":"ML","t":123.66,"F":-115.8,"M":-113.8},{"d":"ML","t":124.04,"F":-113.3,"M":-112.3},{"d":"ML","t":124.42,"F":-110.3,"M":-110.3},{"d":"ML","t":124.8,"F":-115.3,"M":-114.3},{"d":"ML","t":125.18,"F":-113.3,"M":-113.3},{"d":"ML","t":125.56,"F":-103.3,"M":-103.3},{"d":"ML","t":125.94,"F":-98.8,"M":-98.8},{"d":"ML","t":126.32,"F":-96.3,"M":-96.3},{"d":"ML","t":126.7,"F":-106.3,"M":-104.3},{"d":"ML","t":127.08,"F":-99.3,"M":-99.3},{"d":"ML","t":127.46,"F":-92.8,"M":-93.3},{"d":"ML","t":127.84,"F":-91.3,"M":-91.8},{"d":"ML","t":128.22,"F":-96.3,"M":-96.3},{"d":"ML","t":128.6,"F":-102.3,"M":-101.3},{"d":"ML","t":128.97,"F":-106.3,"M":-104.3},{"d":"ML","t":129.35,"F":-110.8,"M":-108.3},{"d":"ML","t":129.73,"F":-103.3,"M":-103.3},{"d":"ML","t":130.11,"F":-104.8,"M":-104.3},{"d":"ML","t":130.49,"F":-105.3,"M":-104.8},{"d":"ML","t":130.87,"F":-106.8,"M":-105.8},{"d":"ML","t":131.25,"F":-109.3,"M":-107.3},{"d":"ML","t":131.63,"F":-98.3,"M":-98.3},{"d":"ML","t":132.01,"F":-91.3,"M":-91.8},{"d":"ML","t":132.39,"F":-89.8,"M":-90.3},{"d":"ML","t":132.77,"F":-95.3,"M":-95.3},{"d":"ML","t":133.15,"F":-101.3,"M":-100.8},{"d":"ML","t":133.53,"F":-101.8,"M":-101.3},{"d":"ML","t":133.91,"F":-100.8,"M":-100.8},{"d":"ML","t":134.29,"F":-102.3,"M":-102.3},{"d":"ML","t":134.67,"F":-103.3,"M":-103.3},{"d":"ML","t":135.04,"F":-108.3,"M":-106.3},{"d":"ML","t":135.42,"F":-110.3,"M":-107.3},{"d":"ML","t":135.8,"F":-101.3,"M":-101.3},{"d":"ML","t":136.18,"F":-96.8,"M":-96.3},{"d":"ML","t":136.56,"F":-94.8,"M":-93.3},{"d":"ML","t":136.94,"F":-98.3,"M":-97.8},{"d":"ML","t":137.32,"F":-102.3,"M":-100.8},{"d":"ML","t":137.7,"F":-104.3,"M":-102.3},{"d":"ML","t":138.08,"F":-99.3,"M":-98.8},{"d":"ML","t":138.46,"F":-104.3,"M":-101.3},{"d":"ML","t":138.84,"F":-103.3,"M":-102.3},{"d":"ML","t":139.22,"F":-101.8,"M":-101.3},{"d":"ML","t":139.6,"F":-106.3,"M":-104.3},{"d":"ML","t":139.98,"F":-106.3,"M":-105.3},{"d":"ML","t":140.36,"F":-99.8,"M":-99.8},{"d":"ML","t":140.74,"F":-105.3,"M":-104.3},{"d":"ML","t":141.11,"F":-108.3,"M":-106.3},{"d":"ML","t":141.49,"F":-104.3,"M":-103.8},{"d":"ML","t":141.87,"F":-103.8,"M":-103.3},{"d":"ML","t":142.25,"F":-105.3,"M":-104.8},{"d":"ML","t":142.63,"F":-109.3,"M":-108.3},{"d":"ML","t":143.01,"F":-115.3,"M":-114.3},{"d":"ML","t":143.39,"F":-120.3,"M":-118.3},{"d":"ML","t":143.77,"F":-115.3,"M":-115.3},{"d":"ML","t":144.15,"F":-105.3,"M":-106.3},{"d":"ML","t":144.53,"F":-101.8,"M":-104.3},{"d":"ML","t":144.91,"F":-110.3,"M":-110.3},{"d":"ML","t":145.29,"F":-120.3,"M":-121.8},{"d":"ML","t":145.67,"F":-122.8,"M":-127.0},{"d":"ML","t":145.85,"F":null,"M":-135.3}
]},
"layer":[
{"data":{"name":"cog"},
 "transform":[{"fold":["F","M"],"as":["s","v"]}],
 "mark":{"type":"line","strokeWidth":2.2,"strokeJoin":"round"},
 "encoding":{
  "x":{"field":"t","type":"quantitative","scale":{"domain":[0,150],"nice":false,"zero":false},
   "axis":{"orient":"bottom","values":[0,10,20,30,40,50,60,70,80,90,100,110,120,130,140,150],"grid":true,
    "labelExpr":"datum.value % 50 == 0 ? '' + datum.value : ''",
    "tickOpacity":{"condition":{"test":"datum.value % 50 == 0","value":1},"value":0},
    "tickSize":-6,"labelPadding":16,"labelFlush":false,
    "title":"Time (s)","titleX":297,"titleY":47,"titleBaseline":"alphabetic","titleAlign":"center","titleAnchor":null}},
  "y":{"field":"v","type":"quantitative","scale":{"domain":[-140,40],"nice":false,"zero":false},
   "axis":{"orient":"left","values":[-140,-135,-130,-125,-120,-115,-110,-105,-100,-95,-90,-85,-80,-75,-70,-65,-60,-55,-50,-45,-40,-35,-30,-25,-20,-15,-10,-5,0,5,10,15,20,25,30,35,40],"grid":true,
    "labelExpr":"datum.value % 20 == 0 ? '' + datum.value : ''",
    "tickOpacity":{"condition":{"test":"datum.value % 20 == 0","value":1},"value":0},
    "tickSize":-6,"labelPadding":15,"labelFlush":false,
    "title":"Center of Gravity Location (mm)","titleX":-62,"titleY":289,"titleBaseline":"alphabetic","titleAlign":"center","titleAngle":-90}},
  "color":{"field":"s","type":"nominal","scale":{"domain":["F","M"],"range":["#3a3aff","#ff1010"]},
   "legend":{"orient":"none","legendX":465,"legendY":12,"title":null,"direction":"vertical",
    "labelExpr":"datum.value == 'F' ? 'Force Plate COG' : 'Mass Link COG'",
    "symbolType":"M-2.3,0H2.3","symbolSize":400,"symbolStrokeWidth":2,"symbolOffset":16,"labelOffset":14,
    "labelFont":"Liberation Serif","labelFontWeight":"bold","labelFontSize":14,"labelColor":"#111111",
    "fillColor":"white","strokeColor":"#555555","padding":3,"rowPadding":-1}},
  "strokeDash":{"field":"s","type":"nominal","scale":{"domain":["F","M"],"range":[[1,0],[8,4]]},
   "legend":{"orient":"none","legendX":465,"legendY":12,"title":null,"direction":"vertical",
    "labelExpr":"datum.value == 'F' ? 'Force Plate COG' : 'Mass Link COG'",
    "symbolType":"M-2.3,0H2.3","symbolSize":400,"symbolStrokeWidth":2,"symbolOffset":16,"labelOffset":14,
    "labelFont":"Liberation Serif","labelFontWeight":"bold","labelFontSize":14,"labelColor":"#111111",
    "fillColor":"white","strokeColor":"#555555","padding":3,"rowPadding":-1}},
  "detail":{"field":"d"}
 }},
{"data":{"name":"notes"},
 "mark":{"type":"text","font":"Liberation Serif","fontSize":20,"fontStyle":"italic","fontWeight":"bold","baseline":"alphabetic","align":"center","color":"#111111"},
 "encoding":{
  "x":{"field":"t","type":"quantitative","scale":{"domain":[0,150],"nice":false,"zero":false},
   "axis":{"orient":"top","values":[0,50,100,150],"labels":false,"grid":false,"tickSize":-6,"title":null}},
  "y":{"field":"v","type":"quantitative","scale":{"domain":[-140,40],"nice":false,"zero":false},
   "axis":{"orient":"right","values":[-140,-120,-100,-80,-60,-40,-20,0,20,40],"labels":false,"grid":false,"tickSize":-6,"title":null}},
  "text":{"field":"label"}
 }}
],
"resolve":{"axis":{"x":"independent","y":"independent"}}
}
